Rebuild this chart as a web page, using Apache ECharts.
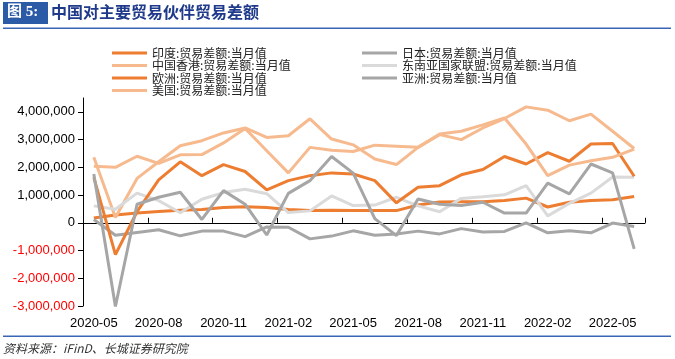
<!DOCTYPE html>
<html>
<head>
<meta charset="utf-8">
<script src="https://cdn.jsdelivr.net/npm/echarts@6/dist/echarts.min.js"></script>
<style>
html,body{margin:0;padding:0;background:#fff;}
#chart{width:675px;height:359px;}
</style>
</head>
<body>
<div id="chart"></div>
<script>
var months = ['2020-05','2020-06','2020-07','2020-08','2020-09','2020-10','2020-11','2020-12',
  '2021-01','2021-02','2021-03','2021-04','2021-05','2021-06','2021-07','2021-08','2021-09','2021-10',
  '2021-11','2021-12','2022-01','2022-02','2022-03','2022-04','2022-05','2022-06'];

var india = [170000,280000,350000,410000,450000,480000,550000,580000,550000,480000,440000,450000,440000,
  440000,440000,640000,750000,760000,760000,800000,890000,570000,740000,800000,830000,950000];
var japan = [120000,-450000,-350000,-250000,-470000,-300000,-300000,-500000,-150000,-160000,-580000,-480000,-290000,
  -450000,-400000,-300000,-400000,-210000,-330000,-310000,0,-360000,-290000,-360000,-10000,-130000];
var hongkong = [2360000,190000,1600000,2200000,2780000,2960000,3240000,3420000,3080000,3140000,3750000,3020000,2810000,
  2300000,2100000,2720000,3180000,3000000,3420000,3760000,4180000,4060000,3680000,3920000,3300000,2680000];
var asean = [610000,490000,1070000,800000,360000,850000,1090000,1210000,1050000,370000,430000,970000,620000,
  640000,920000,610000,400000,880000,940000,1010000,1340000,250000,700000,1070000,1650000,1640000];
var europe = [1640000,-1150000,400000,1550000,2200000,1700000,2100000,1850000,1190000,1520000,1700000,1800000,1760000,
  1520000,720000,1280000,1340000,1730000,1920000,2390000,2120000,2530000,2220000,2840000,2860000,1680000];
var asia = [1760000,-3020000,670000,920000,1100000,120000,1160000,670000,-440000,1060000,1520000,2390000,1790000,
  150000,-460000,860000,670000,620000,740000,350000,350000,1430000,1040000,2120000,1800000,-940000];
var usa = [2040000,2000000,2400000,2140000,2450000,2460000,2880000,3400000,2600000,1800000,2720000,2620000,2570000,
  2800000,2760000,2720000,3200000,3300000,3530000,3780000,2840000,1700000,2080000,2240000,2360000,2660000];

var seriesNames = ['印度:贸易差额:当月值','日本:贸易差额:当月值','中国香港:贸易差额:当月值','东南亚国家联盟:贸易差额:当月值',
  '欧洲:贸易差额:当月值','亚洲:贸易差额:当月值','美国:贸易差额:当月值'];
var seriesData = [india, japan, hongkong, asean, europe, asia, usa];
var seriesColors = ['#ED7D31','#A6A6A6','#F6BA8E','#DADADA','#ED7D31','#A6A6A6','#F6BA8E'];

var yMin = -3000000, yMax = 4500000, yInterval = 1000000;

var chart = echarts.init(document.getElementById('chart'));

var series = seriesNames.map(function(n, i){
  return {
    name: n, type: 'line', data: seriesData[i], xAxisIndex: 0,
    showSymbol: false, symbol: 'none', smooth: false,
    lineStyle: {width: 3, color: seriesColors[i]},
    itemStyle: {color: seriesColors[i]},
    emphasis: {disabled: true}
  };
});

var legendText = {fontSize: 12, color: '#222', fontFamily: '"Noto Sans CJK SC", sans-serif', lineHeight: 10};

chart.setOption({
  animation: false,
  grid: {left: 83, right: 30, top: 98, bottom: 53, containLabel: false},
  legend: [
    {orient: 'vertical', left: 107, top: 42, itemWidth: 35, itemHeight: 3, itemGap: 0.5, icon: 'rect',
     data: [seriesNames[0], seriesNames[2], seriesNames[4], seriesNames[6]], textStyle: legendText},
    {orient: 'vertical', left: 357, top: 42, itemWidth: 35, itemHeight: 3, itemGap: 0.5, icon: 'rect',
     data: [seriesNames[1], seriesNames[3], seriesNames[5]], textStyle: legendText}
  ],
  xAxis: [
    {type: 'category', data: months, boundaryGap: true, position: 'bottom',
     axisLine: {show: true, onZero: true, lineStyle: {color: '#000', width: 1}},
     axisTick: {show: true, inside: true, length: 5, interval: 2, lineStyle: {color: '#000'}},
     axisLabel: {show: false}, splitLine: {show: false}},
    {type: 'category', data: months, boundaryGap: true, position: 'bottom',
     axisLine: {show: false, onZero: false}, axisTick: {show: false},
     axisLabel: {show: true, interval: 2, fontSize: 13, color: '#000', margin: 11,
       fontFamily: '"Liberation Sans", Arial, sans-serif'},
     splitLine: {show: false}}
  ],
  yAxis: {
    type: 'value', min: yMin, max: yMax, interval: yInterval,
    axisLine: {show: true, lineStyle: {color: '#000', width: 1}},
    axisTick: {show: true, inside: false, length: 5, lineStyle: {color: '#000'}},
    splitLine: {show: false},
    axisLabel: {
      showMaxLabel: false, fontSize: 13, margin: 8,
      fontFamily: '"Liberation Sans", Arial, sans-serif',
      formatter: function(v){ return Number(v).toLocaleString('en-US'); },
      color: function(v){ return Number(v) < 0 ? '#FF0000' : '#000000'; }
    }
  },
  graphic: [
    {type: 'rect', left: 3, top: 2, shape: {width: 45, height: 22}, style: {fill: '#2B5BA6'}},
    {type: 'text', left: 7, top: 5, style: {text: '图 5:', fill: '#fff', fontSize: 15, fontWeight: 'bold',
      fontFamily: '"Liberation Serif","Noto Sans CJK SC", serif'}},
    {type: 'text', left: 51, top: 4, style: {text: '中国对主要贸易伙伴贸易差额', fill: '#1F3A8A', fontSize: 16,
      fontWeight: 'bold', fontFamily: '"Noto Sans CJK SC", sans-serif'}},
    {type: 'rect', left: 3, top: 27.5, shape: {width: 668, height: 1.6}, style: {fill: '#3A66B5'}},
    {type: 'rect', left: 3, top: 335.5, shape: {width: 668, height: 1.4}, style: {fill: '#3A66B5'}},
    {type: 'text', left: 3, top: 342, style: {text: '资料来源：iFinD、长城证券研究院', fill: '#333', fontSize: 12,
      fontStyle: 'italic', fontFamily: '"Noto Sans CJK SC", sans-serif'}}
  ],
  series: series
});
</script>
</body>
</html>
